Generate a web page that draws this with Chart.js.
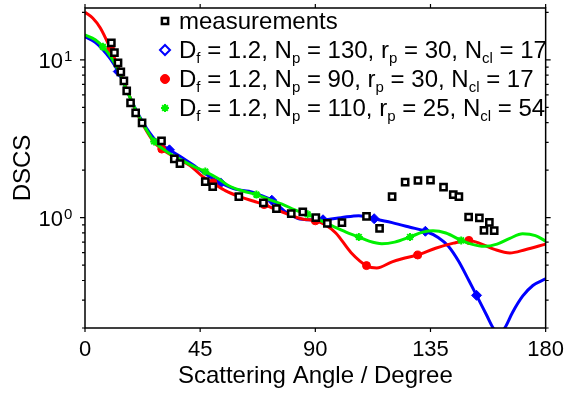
<!DOCTYPE html>
<html>
<head>
<meta charset="utf-8">
<script src="https://cdn.jsdelivr.net/npm/chart.js@4.4.0/dist/chart.umd.min.js"></script>
<style>
  html, body { margin: 0; padding: 0; background: #fff; }
  #wrap { width: 573px; height: 398px; }
</style>
</head>
<body>
<div id="wrap"><canvas id="mycanvas" width="573" height="398"></canvas></div>
<script>
// measured points
var measAngles = [10.3, 11.5, 12.9, 14.0, 15.2, 16.3, 17.8, 19.8, 22.3, 29.9, 34.9, 37.1, 47.0, 49.9,
                  60.1, 69.7, 74.8, 80.6, 85.1, 90.2, 94.7, 100.4, 110.0, 115.1, 120.0, 125.1, 130.1,
                  135.0, 140.1, 143.9, 146.1, 149.9, 154.1, 155.9, 158.0, 159.9];
var measValues = [12.8, 11.1, 9.57, 8.40, 7.36, 6.36, 5.34, 4.62, 3.99, 3.07, 2.36, 2.20, 1.69, 1.57,
                  1.36, 1.24, 1.14, 1.06, 1.09, 1.00, 0.92, 0.93, 1.02, 0.856, 1.36, 1.68, 1.72,
                  1.73, 1.56, 1.40, 1.36, 1.01, 0.996, 0.831, 0.934, 0.827];

// model: Df = 1.2, Np = 130, rp = 30, Ncl = 17
var blueAngles = [0, 4, 7, 10, 13, 16, 20, 24, 28, 33, 38, 42, 47, 53, 59, 64, 68, 73, 78, 83, 88, 93,
                  100, 107, 113, 120, 127, 133, 138, 142, 146, 150, 153, 157, 159.5, 161.5, 164, 167, 171, 175, 180];
var blueValues = [14.0, 12.9, 11.6, 10.1, 8.43, 6.6, 4.8, 3.7, 3.05, 2.69, 2.40, 2.17, 1.90, 1.66, 1.51, 1.47, 1.40, 1.29, 1.10, 0.99, 0.97, 0.97,
                  1.00, 1.03, 0.985, 0.93, 0.87, 0.82, 0.75, 0.66, 0.53, 0.40, 0.322, 0.24, 0.20, 0.185, 0.20, 0.25, 0.318, 0.372, 0.41];
var blueMarkers = [13, 33, 53, 73, 93, 113, 133, 153];

// model: Df = 1.2, Np = 90, rp = 30, Ncl = 17
var redAngles = [0, 3, 6, 10, 13, 16, 20, 24, 27, 30, 35, 41, 46, 50, 55, 61, 66, 70, 75, 80, 85, 90,
                 94, 98, 104, 110, 114, 120, 125, 130, 137, 144, 150, 155, 160, 166, 172, 180];
var redValues = [20.0, 18.4, 15.9, 11.7, 9.0, 6.7, 4.7, 3.55, 3.0, 2.72, 2.42, 2.14, 1.82, 1.66, 1.48, 1.35, 1.27, 1.21, 1.12, 1.04, 0.98, 0.955,
                 0.90, 0.80, 0.60, 0.497, 0.48, 0.525, 0.555, 0.58, 0.64, 0.69, 0.718, 0.68, 0.63, 0.598, 0.627, 0.68];
var redMarkers = [10, 30, 50, 70, 90, 110, 130, 150];

// model: Df = 1.2, Np = 110, rp = 25, Ncl = 54
var greenAngles = [0, 4, 7, 10, 13, 16, 20, 24, 27, 32, 37, 42, 47, 52, 56, 62, 67, 72, 77, 82, 87, 92,
                   97, 102, 107, 111, 116, 121, 127, 132, 136, 141, 147, 151, 156, 161, 166, 171, 176, 180];
var greenValues = [14.4, 13.4, 12.1, 10.5, 8.6, 6.6, 4.75, 3.6, 3.04, 2.62, 2.35, 2.13, 1.96, 1.77, 1.60, 1.47, 1.40, 1.30, 1.22, 1.12, 1.05, 0.96,
                   0.88, 0.81, 0.755, 0.71, 0.684, 0.70, 0.755, 0.81, 0.827, 0.80, 0.718, 0.68, 0.658, 0.68, 0.74, 0.79, 0.77, 0.71];
var greenMarkers = [7, 27, 47, 67, 87, 107, 127, 147];

var seriesLabels = [
  'measurements',
  'D_{f} = 1.2, N_{p} = 130, r_{p} = 30, N_{cl} = 17',
  'D_{f} = 1.2, N_{p} = 90, r_{p} = 30, N_{cl} = 17',
  'D_{f} = 1.2, N_{p} = 110, r_{p} = 25, N_{cl} = 54'
];

var xTicks = [0, 45, 90, 135, 180];
var yMajor = [1, 10];
var yMajorExp = ['0', '1'];
var yMinor = [0.2, 0.3, 0.4, 0.5, 0.6, 0.7, 0.8, 0.9, 2, 3, 4, 5, 6, 7, 8, 9, 20];

var family = '"Liberation Sans", Arial, sans-serif';
Chart.defaults.font.family = family;
Chart.defaults.color = '#000';

function curve(label, angles, values, markers, color, style, r, order) {
  return {
    label: label,
    data: angles.map(function (a, i) { return {x: a, y: values[i]}; }),
    borderColor: color,
    backgroundColor: color,
    borderWidth: 3,
    showLine: true,
    fill: false,
    cubicInterpolationMode: 'monotone',
    pointStyle: style,
    pointRadius: angles.map(function (a) { return markers.indexOf(a) >= 0 ? r : 0; }),
    pointBorderColor: color,
    pointBackgroundColor: color,
    pointBorderWidth: style === 'star' ? 2 : 1,
    clip: 0,
    order: order
  };
}

var datasets = [
  {
    label: seriesLabels[0],
    data: measAngles.map(function (a, i) { return {x: a, y: measValues[i]}; }),
    showLine: false,
    pointStyle: 'rect',
    pointRadius: 4.4,
    pointBorderWidth: 2.5,
    pointBorderColor: '#000',
    pointBackgroundColor: '#fff',
    order: 0
  },
  curve(seriesLabels[1], blueAngles, blueValues, blueMarkers, '#0000ff', 'rectRot', 5, 3),
  curve(seriesLabels[2], redAngles, redValues, redMarkers, '#ff0000', 'circle', 4, 2),
  curve(seriesLabels[3], greenAngles, greenValues, greenMarkers, '#00f000', 'star', 4, 1)
];

function drawRich(ctx, text, x, y) {
  text.split(/(_\{[^}]*\})/).forEach(function (p) {
    if (!p) return;
    if (p.indexOf('_{') === 0) {
      var t = p.slice(2, -1);
      ctx.font = '15px ' + family;
      ctx.fillText(t, x, y + 5);
      x += ctx.measureText(t).width;
    } else {
      ctx.font = '24px ' + family;
      ctx.fillText(p, x, y);
      x += ctx.measureText(p).width;
    }
  });
}

var framePlugin = {
  id: 'frame',
  afterDatasetsDraw: function (chart) {
    var ctx = chart.ctx, a = chart.chartArea;
    var xs = chart.scales.x, ys = chart.scales.y;
    ctx.save();
    ctx.strokeStyle = '#000';
    ctx.lineWidth = 1.5;
    ctx.strokeRect(a.left, a.top, a.right - a.left, a.bottom - a.top);
    ctx.lineWidth = 1.2;
    ctx.beginPath();
    xTicks.forEach(function (v) {
      var px = xs.getPixelForValue(v);
      ctx.moveTo(px, a.bottom); ctx.lineTo(px, a.bottom + 4);
      ctx.moveTo(px, a.top); ctx.lineTo(px, a.top - 4);
    });
    yMajor.forEach(function (v) {
      var py = ys.getPixelForValue(v);
      ctx.moveTo(a.left, py); ctx.lineTo(a.left - 5, py);
      ctx.moveTo(a.right, py); ctx.lineTo(a.right + 5, py);
    });
    yMinor.forEach(function (v) {
      var py = ys.getPixelForValue(v);
      ctx.moveTo(a.left, py); ctx.lineTo(a.left - 3, py);
      ctx.moveTo(a.right, py); ctx.lineTo(a.right + 3, py);
    });
    ctx.stroke();

    // y tick labels 10^n
    ctx.fillStyle = '#000';
    ctx.textBaseline = 'alphabetic';
    yMajor.forEach(function (v, i) {
      var py = ys.getPixelForValue(v);
      ctx.font = '22px ' + family;
      ctx.textAlign = 'right';
      ctx.fillText('10', 63, py + 8);
      ctx.font = '15px ' + family;
      ctx.textAlign = 'left';
      ctx.fillText(yMajorExp[i], 64, py + 1);
    });
    ctx.restore();
  },
  afterDraw: function (chart) {
    var ctx = chart.ctx;
    var rows = [21, 50, 79, 108];
    ctx.save();
    chart.data.datasets.forEach(function (ds, i) {
      var y = rows[i];
      var style = i === 0 ? {pointStyle: 'rect', radius: 4.4, borderWidth: 2.5}
                : i === 1 ? {pointStyle: 'rectRot', radius: 5, borderWidth: 2}
                : i === 2 ? {pointStyle: 'circle', radius: 4.5, borderWidth: 1}
                : {pointStyle: 'star', radius: 4, borderWidth: 2};
      style.rotation = 0;
      ctx.strokeStyle = i === 0 ? '#000' : ds.borderColor;
      ctx.fillStyle = (i === 0 || i === 1) ? '#fff' : ds.borderColor;
      ctx.lineWidth = style.borderWidth;
      Chart.helpers.drawPoint(ctx, style, 165, y);
      ctx.fillStyle = '#000';
      ctx.textAlign = 'left';
      ctx.textBaseline = 'alphabetic';
      drawRich(ctx, ds.label, 179, y + 8);
    });
    ctx.restore();
  }
};

var ctx = document.getElementById('mycanvas');
var chart = new Chart(ctx, {
  type: 'line',
  data: { datasets: datasets },
  options: {
    responsive: false,
    animation: false,
    layout: { padding: { top: 8, right: 19 } },
    plugins: { legend: { display: false }, tooltip: { enabled: false } },
    scales: {
      x: {
        type: 'linear', min: 0, max: 180,
        afterFit: function (s) { s.height = 70; },
        grid: { display: false, drawTicks: false },
        border: { display: false },
        ticks: { stepSize: 45, font: { size: 22 }, color: '#000', padding: 9, maxRotation: 0 },
        title: { display: true, text: 'Scattering Angle / Degree', font: { size: 24 }, color: '#000', padding: { top: 0, bottom: 7 } }
      },
      y: {
        type: 'logarithmic', min: 0.2, max: 21.3,
        afterFit: function (s) { s.width = 85; },
        grid: { display: false, drawTicks: false },
        border: { display: false },
        ticks: { display: false },
        title: { display: true, text: 'DSCS', font: { size: 24 }, color: '#000', padding: { top: 9, bottom: 0 } }
      }
    }
  },
  plugins: [framePlugin]
});
</script>
</body>
</html>
